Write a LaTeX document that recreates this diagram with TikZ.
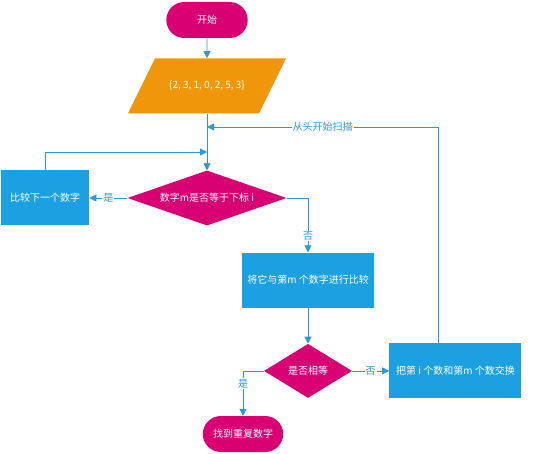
\documentclass[tikz,border=0pt]{standalone}
\usepackage{fontspec}
\setmainfont{Noto Sans CJK SC}
\usepackage{xcolor}
\usetikzlibrary{arrows.meta, positioning, shapes.geometric, shapes.misc}
\definecolor{startpink}{HTML}{D80073}
\definecolor{dataorange}{HTML}{F0960A}
\definecolor{stepblue}{HTML}{1BA1E2}
\definecolor{flowline}{HTML}{2A9ADB}
\tikzset{
  terminal/.style={rounded rectangle, fill=startpink, text=white, minimum width=87pt, minimum height=36pt, font=\fontsize{10}{12}\selectfont},
  iobox/.style={rectangle, minimum width=158pt, minimum height=55pt, inner sep=0pt, text=white, font=\fontsize{10}{12}\selectfont,
    path picture={\fill[dataorange] ([xshift=27pt]path picture bounding box.north west) -- (path picture bounding box.north east)
      -- ([xshift=-27pt]path picture bounding box.south east) -- (path picture bounding box.south west) -- cycle;}},
  stepbox/.style={rectangle, fill=stepblue, text=white, minimum height=55pt, inner sep=0pt, font=\fontsize{10}{12}\selectfont},
  choice/.style={diamond, fill=startpink, text=white, inner sep=0pt, font=\fontsize{10}{12}\selectfont},
  flow/.style={-{Triangle[length=7pt,width=7pt]}, draw=flowline, line width=0.8pt},
  flowlabel/.style={fill=white, text=flowline, inner sep=1pt, font=\fontsize{10}{12}\selectfont}
}
\begin{document}
\begin{tikzpicture}[x=1pt, y=-1pt]
  \useasboundingbox (0,0) rectangle (548,454);
  \node[terminal, minimum width=88pt] (start) at (207,20) {开始};
  \node[iobox, below=20pt of start] (data) {\{2, 3, 1, 0, 2, 5, 3\}};
  \node[choice, aspect=2.9, minimum width=159pt, minimum height=55pt] (isidx) at (207,198) {数字m是否等于下标 i};
  \node[stepbox, minimum width=88pt, left=38pt of isidx] (next) {比较下一个数字};
  \node[stepbox, minimum width=132pt] (cmp) at (308,280) {将它与第m 个数字进行比较};
  \node[choice, aspect=1.63, minimum width=88pt, minimum height=54pt, below=36pt of cmp] (same) {是否相等};
  \node[stepbox, minimum width=132pt, right=37pt of same] (swap) {把第 i 个数和第m 个数交换};
  \node[terminal, minimum width=87pt] (found) at (243,434) {找到重复数字};
  \coordinate (scan) at (207,127);
  \coordinate (back) at (207,152);
  % connectors
  \draw[flow] (start) -- (data);
  \draw[flow] (data) -- (isidx);
  \draw[flow] ([xshift=-17pt]swap.north) |- (scan) node[flowlabel, pos=0.75] {从头开始扫描};
  \draw[flow] (next.north) |- (back);
  \draw[flow] (isidx.west) -- (next.east) node[flowlabel, midway] {是};
  \draw[flow] (isidx.east) -| (cmp.north) node[flowlabel, pos=0.85] {否};
  \draw[flow] (cmp) -- (same);
  \draw[flow] (same.east) -- (swap.west) node[flowlabel, midway] {否};
  \draw[flow] (same.west) -| (found.north) node[flowlabel, pos=0.64] {是};
\end{tikzpicture}
\end{document}
